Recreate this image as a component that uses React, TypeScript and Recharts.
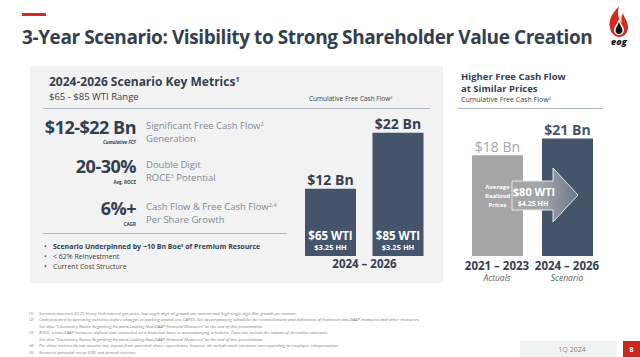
import React from 'react'
import { BarChart, Bar, XAxis, YAxis, Cell, LabelList } from 'recharts'

// values
const leftPeriod = '2024 – 2026'
const leftValues = [12, 22]
const leftWti = ['$65 WTI', '$85 WTI']
const leftHH = ['$3.25 HH', '$3.25 HH']

const rightPeriods = ['2021 – 2023', '2024 – 2026']
const rightSubs = ['Actuals', 'Scenario']
const rightValues = [18, 21]
const rightColors = ['#a6a6a6', '#44546a']

const footnotes = [
  ['(1)', 'Scenario assumes $3.25 Henry Hub natural gas price, low single digit oil growth per annum and high single digit Boe growth per annum.'],
  ['(2)', 'Cash provided by operating activities before changes in working capital less CAPEX.  See accompanying  schedules for reconciliations and definitions of historical non-GAAP measures and other measures.'],
  ['', 'See also “Cautionary Notice Regarding Forward-Looking Non-GAAP Financial Measures” at the end of this presentation.'],
  ['(3)', 'ROCE, a non-GAAP measure, defined and reconciled on a historical basis in accompanying  schedules. Does not include the impact of derivative contracts.'],
  ['', 'See also “Cautionary Notice Regarding Forward-Looking Non-GAAP Financial Measures” at the end of this presentation.'],
  ['(4)', 'Per share metrics do not assume any impact from potential share repurchases, however do include stock issuances corresponding to employee compensation.'],
  ['(5)', 'Resource potential net to EOG, not proved reserves.'],
]

const DARK = '#333f50'
const GREY_TXT = '#7f8996'
const FONT = '"Open Sans", sans-serif'

type TxtProps = {
  x: number
  y: number
  size: number
  align?: 'left' | 'right' | 'center'
  bold?: boolean
  italic?: boolean
  color?: string
  children: React.ReactNode
  style?: React.CSSProperties
}

const Txt = ({ x, y, size, align = 'left', bold, italic, color = DARK, children, style }: TxtProps) => {
  const shift = align === 'right' ? '-100%' : align === 'center' ? '-50%' : '0'
  return (
    <div
      style={{
        position: 'absolute',
        left: x,
        top: y - size / 2,
        fontSize: size,
        lineHeight: `${size}px`,
        fontWeight: bold ? 700 : 400,
        fontStyle: italic ? 'italic' : 'normal',
        color,
        whiteSpace: 'nowrap',
        transform: `translateX(${shift})`,
        ...style,
      }}
    >
      {children}
    </div>
  )
}

const Sup = ({ children }: { children: React.ReactNode }) => (
  <sup style={{ fontSize: '0.6em', lineHeight: 0, verticalAlign: '0.5em' }}>{children}</sup>
)

const leftData = leftValues.map((v, i) => ({ name: leftWti[i], value: v }))
const rightData = rightValues.map((v, i) => ({ period: rightPeriods[i], value: v }))

const topLabel = (colors: string[]) => (props: any) => {
  const { x, y, width, value, index } = props
  return (
    <text
      x={x + width / 2}
      y={y - 9}
      textAnchor="middle"
      dominantBaseline="central"
      fontFamily={FONT}
      fontWeight={colors[index] === '#a6a6a6' ? 400 : 700}
      fontSize={14}
      fill={colors[index]}
    >
      {`$${value} Bn`}
    </text>
  )
}

const insideLeft = (props: any) => {
  const { x, y, width, height, index } = props
  const cx = x + width / 2
  const bottom = y + height
  return (
    <g fontFamily={FONT} fontWeight={700} fill="#ffffff" textAnchor="middle">
      <text x={cx} y={bottom - 21} dominantBaseline="central" fontSize={11.5}>
        {leftWti[index]}
      </text>
      <text x={cx} y={bottom - 9} dominantBaseline="central" fontSize={7.5}>
        {leftHH[index]}
      </text>
    </g>
  )
}

const insideRight = (props: any) => {
  const { x, y, width, height, index } = props
  if (index !== 0) return null
  const cx = x + width / 2
  const bottom = y + height
  return (
    <g fontFamily={FONT} fontWeight={700} fill="#ffffff" textAnchor="middle" fontSize={6}>
      <text x={cx} y={bottom - 69} dominantBaseline="central">Average</text>
      <text x={cx} y={bottom - 60} dominantBaseline="central">Realized</text>
      <text x={cx} y={bottom - 51} dominantBaseline="central">Prices</text>
    </g>
  )
}

const RightTick = (props: any) => {
  const { x, y, payload } = props
  return (
    <g fontFamily={FONT} textAnchor="middle">
      <text x={x} y={y + 1} dominantBaseline="central" fontSize={11.5} fontWeight={700} fill={DARK}>
        {payload.value}
      </text>
      <text x={x} y={y + 13.5} dominantBaseline="central" fontSize={8.5} fontStyle="italic" fill="#595959">
        {rightSubs[payload.index]}
      </text>
    </g>
  )
}

const Logo = () => (
  <svg width={34} height={44} style={{ position: 'absolute', left: 602, top: 4 }} viewBox="0 0 34 44">
    <path d="M17 2 C10 10 6 16 8 24 C9 30 14 33 17 33 C22 33 26 29 26 23 C26 17 22 14 21 9 C19 13 19 16 20 19 C16 15 15 9 17 2 Z" fill="#d52b1e" />
    <path d="M17 15 C15 20 12 23 12 26 C12 29 14.5 31 17 31 C19.5 31 22 29 22 26 C22 23 19 20 17 15 Z" fill="#ffffff" />
    <path d="M17 18 C15.5 22 13.5 24 13.5 26.5 C13.5 28.5 15 30 17 30 C19 30 20.5 28.5 20.5 26.5 C20.5 24 18.5 22 17 18 Z" fill="#111111" />
    <text x={17} y={41} textAnchor="middle" fontFamily={FONT} fontWeight={800} fontStyle="italic" fontSize={9} fill="#111">
      eog
    </text>
  </svg>
)

export default function App() {
  return (
    <div
      style={{
        position: 'fixed',
        left: 0,
        top: 0,
        width: 640,
        height: 357,
        background: '#ffffff',
        overflow: 'hidden',
        fontFamily: FONT,
      }}
    >
      {/* header */}
      <div style={{ position: 'absolute', left: 22, top: 13, width: 24, height: 3, background: '#d52b1e' }} />
      <Txt x={22} y={37} size={19} bold style={{ letterSpacing: -0.42 }}>
        3-Year Scenario: Visibility to Strong Shareholder Value Creation
      </Txt>
      <Logo />

      {/* left panel */}
      <div style={{ position: 'absolute', left: 30, top: 66, width: 413, height: 217, background: '#f2f2f2' }} />
      <Txt x={49} y={82} size={12} bold>
        2024-2026 Scenario Key Metrics<Sup>1</Sup>
      </Txt>
      <Txt x={49} y={97} size={9.5} color="#404040">
        $65 - $85 WTI Range
      </Txt>
      <div style={{ position: 'absolute', left: 43, top: 108, width: 387, height: 1, background: '#adb9ca' }} />
      <Txt x={309} y={99} size={6.5} color="#404040">
        Cumulative Free Cash Flow<Sup>2</Sup>
      </Txt>

      <Txt x={136} y={127} size={18} bold align="right" style={{ letterSpacing: -0.5 }}>
        $12-$22 Bn
      </Txt>
      <Txt x={136} y={142} size={4.5} bold italic align="right">
        Cumulative FCF
      </Txt>
      <Txt x={146} y={126} size={9.5} color={GREY_TXT}>
        Significant Free Cash Flow<Sup>2</Sup>
      </Txt>
      <Txt x={146} y={139} size={9.5} color={GREY_TXT}>
        Generation
      </Txt>

      <Txt x={136} y={166} size={18} bold align="right" style={{ letterSpacing: -0.5 }}>
        20-30%
      </Txt>
      <Txt x={136} y={182} size={4.5} bold align="right">
        Avg. ROCE
      </Txt>
      <Txt x={146} y={165} size={9.5} color={GREY_TXT}>
        Double Digit
      </Txt>
      <Txt x={146} y={178} size={9.5} color={GREY_TXT}>
        ROCE<Sup>3</Sup> Potential
      </Txt>

      <Txt x={136} y={208} size={18} bold align="right" style={{ letterSpacing: -0.5 }}>
        6%+
      </Txt>
      <Txt x={136} y={224} size={4.5} bold align="right">
        CAGR
      </Txt>
      <Txt x={146} y={207} size={9.5} color={GREY_TXT}>
        Cash Flow &amp; Free Cash Flow<Sup>2,4</Sup>
      </Txt>
      <Txt x={146} y={220} size={9.5} color={GREY_TXT}>
        Per Share Growth
      </Txt>
      <div style={{ position: 'absolute', left: 43, top: 233, width: 244, height: 1, background: '#adb9ca' }} />

      <Txt x={44} y={246} size={7} color="#404040">•</Txt>
      <Txt x={53} y={246} size={7} bold>
        Scenario Underpinned by ~10 Bn Boe<Sup>5</Sup> of Premium Resource
      </Txt>
      <Txt x={44} y={256} size={7} color="#404040">•</Txt>
      <Txt x={53} y={256} size={7} color="#404040">
        &lt; 62% Reinvestment
      </Txt>
      <Txt x={44} y={266} size={7} color="#404040">•</Txt>
      <Txt x={53} y={266} size={7} color="#404040">
        Current Cost Structure
      </Txt>

      {/* left bar chart */}
      <div style={{ position: 'absolute', left: 297, top: 106 }}>
        <BarChart width={135} height={180} data={leftData} margin={{ top: 10, right: 0, left: 0, bottom: 0 }}>
          <XAxis
            dataKey="name"
            height={30}
            tick={false}
            axisLine={false}
            tickLine={false}
            label={{
              value: leftPeriod,
              position: 'insideTop',
              offset: 4,
              fill: DARK,
              fontSize: 11.5,
              fontWeight: 700,
              fontFamily: FONT,
            }}
          />
          <YAxis hide domain={[0, 25]} />
          <Bar dataKey="value" barSize={51} isAnimationActive={false}>
            {leftData.map((d) => (
              <Cell key={d.name} fill="#44546a" />
            ))}
            <LabelList dataKey="value" content={topLabel(['#333f50', '#333f50'])} />
            <LabelList dataKey="value" content={insideLeft} />
          </Bar>
        </BarChart>
      </div>

      {/* right section */}
      <Txt x={461} y={77} size={9.5} bold>
        Higher Free Cash Flow
      </Txt>
      <Txt x={461} y={89} size={9.5} bold>
        at Similar Prices
      </Txt>
      <Txt x={461} y={99} size={7} color="#404040">
        Cumulative Free Cash Flow<Sup>2</Sup>
      </Txt>
      <div style={{ position: 'absolute', left: 458, top: 108, width: 145, height: 1, background: '#adb9ca' }} />

      <div style={{ position: 'absolute', left: 462, top: 106 }}>
        <BarChart width={140} height={180} data={rightData} margin={{ top: 10, right: 0, left: 0, bottom: 0 }}>
          <XAxis dataKey="period" height={30} axisLine={false} tickLine={false} interval={0} tick={<RightTick />} />
          <YAxis hide domain={[0, 25]} />
          <Bar dataKey="value" barSize={51} isAnimationActive={false}>
            {rightData.map((d, i) => (
              <Cell key={d.period} fill={rightColors[i]} />
            ))}
            <LabelList dataKey="value" content={topLabel(rightColors)} />
            <LabelList dataKey="value" content={insideRight} />
          </Bar>
        </BarChart>
      </div>

      {/* price arrow */}
      <svg width={640} height={357} style={{ position: 'absolute', left: 0, top: 0, pointerEvents: 'none' }}>
        <defs>
          <linearGradient id="arrowGrad" x1="0" x2="1" y1="0" y2="0">
            <stop offset="0" stopColor="#a6a6a6" />
            <stop offset="0.45" stopColor="#a3a6ab" />
            <stop offset="1" stopColor="#6c7788" />
          </linearGradient>
        </defs>
        <polygon
          points="512,181 553,181 553,168 578,195 553,222 553,210 512,210"
          fill="url(#arrowGrad)"
          stroke="#e6e6e6"
          strokeWidth={1}
        />
        <text x={534} y={191} textAnchor="middle" dominantBaseline="central" fontFamily={FONT} fontWeight={700} fontSize={11} fill="#fff">
          $80 WTI
        </text>
        <text x={533} y={203} textAnchor="middle" dominantBaseline="central" fontFamily={FONT} fontWeight={700} fontSize={7} fill="#fff">
          $4.25 HH
        </text>
      </svg>

      {/* footnotes */}
      {footnotes.map(([num, text], i) => (
        <React.Fragment key={i}>
          <Txt x={29} y={313 + i * 6.5} size={4.3} italic color="#808080">
            {num}
          </Txt>
          <Txt x={39} y={313 + i * 6.5} size={4.3} italic color="#808080">
            {text}
          </Txt>
        </React.Fragment>
      ))}

      {/* footer */}
      <div style={{ position: 'absolute', left: 520, top: 341, width: 97, height: 16, background: '#f0f3f4' }} />
      <Txt x={572} y={349} size={7} align="center" color="#808080">
        1Q 2024
      </Txt>
      <div style={{ position: 'absolute', left: 623, top: 341, width: 17, height: 16, background: '#c8281d' }} />
      <Txt x={631.5} y={349} size={7} bold align="center" color="#ffffff">
        8
      </Txt>
    </div>
  )
}
